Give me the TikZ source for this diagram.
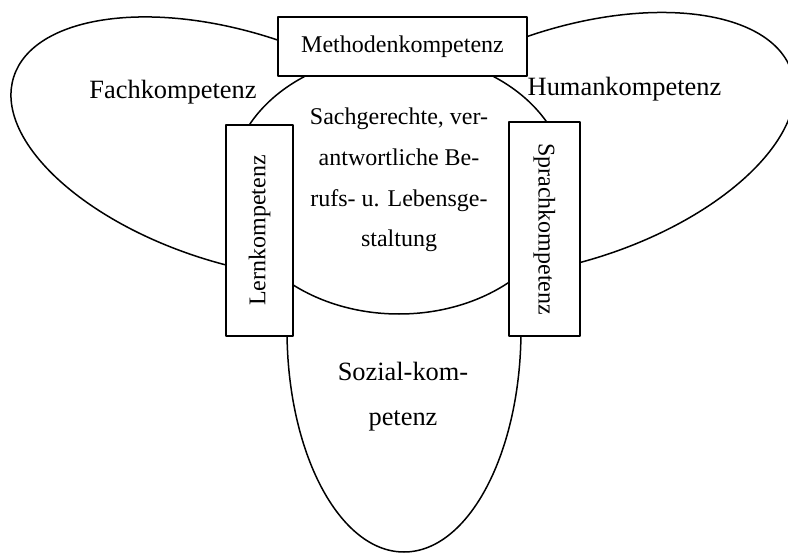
\documentclass[tikz,border=0pt]{standalone}
\usepackage{fontspec}
\setmainfont{Liberation Serif}
\begin{document}
\begin{tikzpicture}[x=0.5pt,y=0.5pt,line join=round,
	kring/.style={line width=0.75pt},
	kbox/.style={draw,fill=white,line width=0.9pt,inner sep=0pt,font=\fontsize{12}{14}\selectfont},
	kgross/.style={font=\fontsize{13.2}{22.5}\selectfont,align=center}]
	\useasboundingbox (0,0) rectangle (788,553);
	% drei aeussere Ellipsen
	\draw[kring,rotate around={-17.7:(235.6,405.3)}] (235.6,405.3) ellipse [x radius=232.9,y radius=115.4];
	\draw[kring,rotate around={18.2:(569.4,408.3)}] (569.4,408.3) ellipse [x radius=234,y radius=116];
	\draw[kring] (404,223) ellipse [x radius=117,y radius=222];
	% Mitte
	\draw[kring,fill=white] (399,369) ellipse [x radius=168,y radius=130];
	\node[font=\fontsize{12}{20.3}\selectfont,align=center] (ziel) at (399,373) {Sachgerechte, ver-\\antwortliche Be-\\rufs- u. Lebensge-\\staltung};
	% Kaesten
	\node[kbox,minimum width=124.5pt,minimum height=29.5pt] (methode) at (402.5,506.5) {Methodenkompetenz};
	\node[kbox,rotate=90,minimum width=105.5pt,minimum height=33.5pt] (lern) at (259.5,322.5) {Lernkompetenz};
	\node[kbox,rotate=-90,minimum width=107pt,minimum height=35.5pt] (sprache) at (544.5,324) {Sprachkompetenz};
	% Beschriftung
	\node[kgross,anchor=base] (fach) at (173,454) {Fachkompetenz};
	\node[kgross,anchor=base] (human) at (624.5,458) {Humankompetenz};
	\node[kgross] (sozial) at (403,156.6) {Sozial-kom-\\petenz};
\end{tikzpicture}
\end{document}
